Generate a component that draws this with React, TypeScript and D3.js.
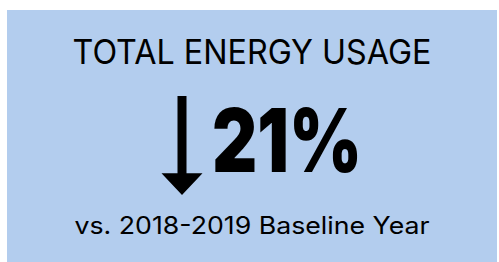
import React, {useEffect, useRef} from 'react';
import * as d3 from 'd3';

const W = 499;
const H = 262;

const labels = ['TOTAL ENERGY USAGE', 'vs. 2018-2019 Baseline Year'];
const values = [21];
const directions = ['down'];

const App = () => {
    const svgRef = useRef<SVGSVGElement | null>(null);

    useEffect(() => {
        const svg = d3.select(svgRef.current);
        svg.selectAll('*').remove();

        svg.append('rect')
            .attr('x', 7).attr('y', 10)
            .attr('width', W - 9).attr('height', H - 10)
            .attr('fill', '#b3cdee');

        const font = 'Inter, "Open Sans", sans-serif';

        svg.append('text')
            .attr('x', 252).attr('y', 64)
            .attr('text-anchor', 'middle')
            .attr('font-family', font)
            .attr('font-size', 34)
            .attr('font-weight', 400)
            .attr('textLength', 359)
            .attr('lengthAdjust', 'spacingAndGlyphs')
            .attr('fill', '#000')
            .text(labels[0]);

        svg.append('text')
            .attr('x', 212).attr('y', 172)
            .attr('font-family', font)
            .attr('font-size', 88)
            .attr('font-weight', 900)
            .attr('textLength', 150)
            .attr('lengthAdjust', 'spacingAndGlyphs')
            .attr('fill', '#000')
            .text(values[0] + '%');

        // arrow
        const y = d3.scaleLinear().domain([0, 1]).range([96, 195]);
        const cx = 182;
        if (directions[0] === 'down') {
            const path = d3.path();
            path.moveTo(cx - 4.5, y(0));
            path.lineTo(cx + 4.5, y(0));
            path.lineTo(cx + 4.5, y(0.78));
            path.lineTo(cx + 20.5, y(0.78));
            path.lineTo(cx, y(1));
            path.lineTo(cx - 20.5, y(0.78));
            path.lineTo(cx - 4.5, y(0.78));
            path.closePath();
            svg.append('path').attr('d', path.toString()).attr('fill', '#000');
        }

        svg.append('text')
            .attr('x', 252).attr('y', 234)
            .attr('text-anchor', 'middle')
            .attr('font-family', font)
            .attr('font-size', 24)
            .attr('font-weight', 400)
            .attr('textLength', 355)
            .attr('lengthAdjust', 'spacingAndGlyphs')
            .attr('fill', '#000')
            .text(labels[1]);
    }, []);

    return (
        <svg ref={svgRef} width={W} height={H}
             style={{position: 'absolute', left: 0, top: 0, display: 'block'}}/>
    );
};

export default App;
